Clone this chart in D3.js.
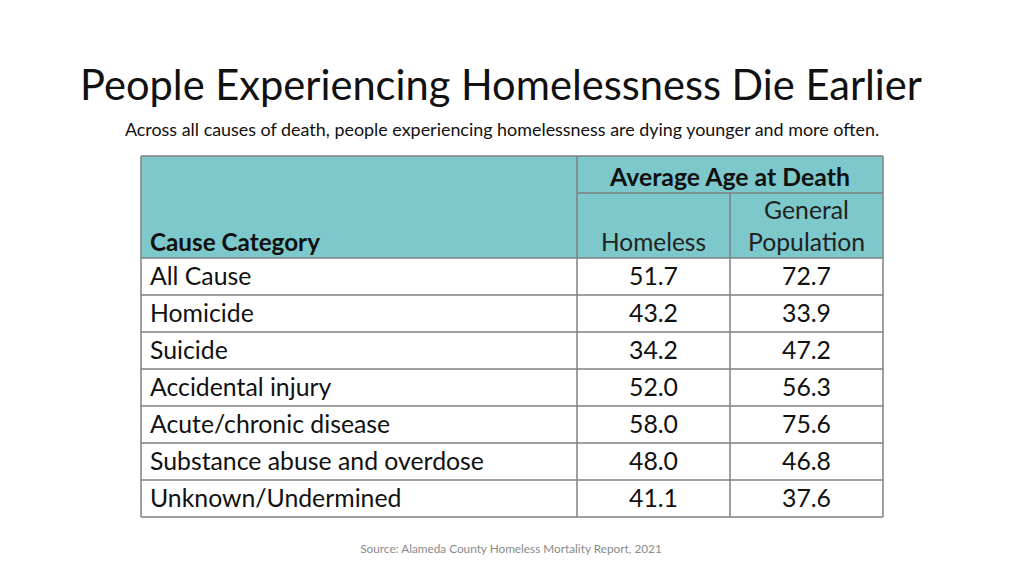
<!DOCTYPE html>
<html><head><meta charset="utf-8">
<script src="https://cdn.jsdelivr.net/npm/d3@7"></script>
<style>body{margin:0;background:#fff}svg{display:block}</style>
</head><body><svg id="c" width="1024" height="576"></svg>
<script>
const categories = ["All Cause","Homicide","Suicide","Accidental injury","Acute/chronic disease","Substance abuse and overdose","Unknown/Undermined"];
const homeless = [51.7,43.2,34.2,52.0,58.0,48.0,41.1];
const generalPop = [72.7,33.9,47.2,56.3,75.6,46.8,37.6];
const columnHeaders = ["Cause Category","Homeless","General Population"];
const groupHeader = "Average Age at Death";
const title = "People Experiencing Homelessness Die Earlier";
const subtitle = "Across all causes of death, people experiencing homelessness are dying younger and more often.";
const source = "Source: Alameda County Homeless Mortality Report, 2021";

(function(){
const svg = d3.select("#c");
const font = "Lato, 'Open Sans', sans-serif";
const headFill = "#7cc8cb", lineCol = "#808080";
const x0 = 141, x1 = 577, x2 = 730, x3 = 883;
const tTop = 156, headMid = 193, headBot = 258, tBottom = 517;

const y = d3.scaleBand().domain(categories).range([headBot, tBottom]);

function fitText(sel, w){
  sel.each(function(){
    const n = this; const l = n.getComputedTextLength();
    if (l > 0) { const fs = parseFloat(n.getAttribute("font-size")); n.setAttribute("font-size", fs * w / l); }
  });
}

svg.append("text").attr("x", 501).attr("y", 100).attr("text-anchor","middle")
  .attr("font-family", font).attr("font-size", 40).attr("fill","#111").text(title).call(fitText, 842);
svg.append("text").attr("x", 502).attr("y", 136).attr("text-anchor","middle")
  .attr("font-family", font).attr("font-size", 16).attr("fill","#111").text(subtitle).call(fitText, 755);

svg.append("rect").attr("x", x0).attr("y", tTop).attr("width", x3-x0).attr("height", headBot-tTop).attr("fill", headFill);

const g = svg.append("g");
const hLines = [tTop, ...categories.map(c=>y(c)), tBottom];
g.selectAll("line.h").data(hLines).join("line").attr("class","h")
  .attr("x1", x0).attr("x2", x3).attr("y1", d=>d).attr("y2", d=>d)
  .attr("stroke", lineCol).attr("stroke-width", 1.5);
g.append("line").attr("x1", x1).attr("x2", x3).attr("y1", headMid).attr("y2", headMid).attr("stroke", lineCol).attr("stroke-width", 1.5);
[[x0, tTop],[x1, tTop],[x2, headMid],[x3, tTop]].forEach(([x, yt])=>{
  g.append("line").attr("x1", x).attr("x2", x).attr("y1", yt).attr("y2", tBottom).attr("stroke", lineCol).attr("stroke-width", 1.5);
});

const cellFs = 23;
svg.append("text").attr("x", 150).attr("y", 251).attr("font-family", font).attr("font-weight", 700)
  .attr("font-size", cellFs).attr("fill","#111").text(columnHeaders[0]).call(fitText, 170);
svg.append("text").attr("x", (x1+x3)/2).attr("y", 186).attr("text-anchor","middle").attr("font-family", font).attr("font-weight", 700)
  .attr("font-size", cellFs).attr("fill","#111").text(groupHeader).call(fitText, 240);
svg.append("text").attr("x", (x1+x2)/2).attr("y", 251).attr("text-anchor","middle").attr("font-family", font)
  .attr("font-size", cellFs).attr("fill","#222").text(columnHeaders[1]).call(fitText, 105);
const gp = columnHeaders[2].split(" ");
svg.append("text").attr("x", (x2+x3)/2).attr("y", 219).attr("text-anchor","middle").attr("font-family", font)
  .attr("font-size", cellFs).attr("fill","#222").text(gp[0]).call(fitText, 85);
svg.append("text").attr("x", (x2+x3)/2).attr("y", 251).attr("text-anchor","middle").attr("font-family", font)
  .attr("font-size", cellFs).attr("fill","#222").text(gp[1]).call(fitText, 117);

const rowFs = 24.8;
const rows = svg.append("g").selectAll("g").data(categories).join("g")
  .attr("transform", d=>`translate(0,${y(d) + y.bandwidth()/2 + 8.5})`);
rows.append("text").attr("x", 150).attr("font-family", font).attr("font-size", rowFs).attr("fill","#111").text(d=>d);
rows.append("text").attr("x", (x1+x2)/2).attr("text-anchor","middle").attr("font-family", font).attr("font-size", rowFs).attr("fill","#111")
  .text((d,i)=>d3.format(".1f")(homeless[i]));
rows.append("text").attr("x", (x2+x3)/2).attr("text-anchor","middle").attr("font-family", font).attr("font-size", rowFs).attr("fill","#111")
  .text((d,i)=>d3.format(".1f")(generalPop[i]));

svg.append("text").attr("x", 511).attr("y", 553).attr("text-anchor","middle").attr("font-family", font)
  .attr("font-size", 11).attr("fill","#8a8a8a").text(source).call(fitText, 302);
})();
</script></body></html>
